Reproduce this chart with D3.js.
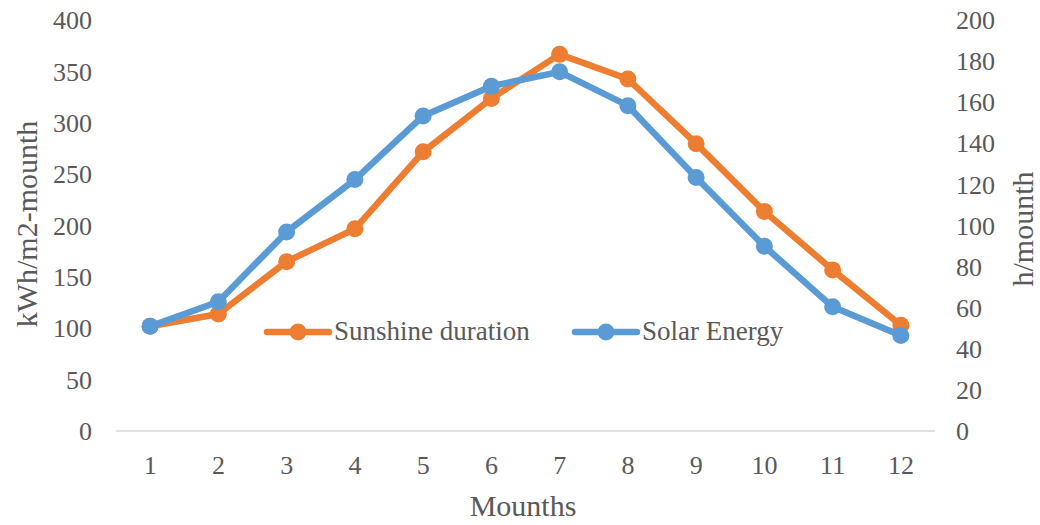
<!DOCTYPE html>
<html>
<head>
<meta charset="utf-8">
<script src="https://cdn.jsdelivr.net/npm/d3@7"></script>
<style>
  html, body { margin: 0; padding: 0; background: #fff; }
  svg { display: block; }
</style>
</head>
<body>
<svg id="chart" width="1040" height="525"></svg>
<script>
// Monthly data
const months = ["1","2","3","4","5","6","7","8","9","10","11","12"];
const sunshine = [102, 114, 165, 197, 272, 324, 367, 343, 280, 214, 157, 103];   // left axis
const solar    = [51, 63, 97, 122.5, 153.5, 168, 175, 158.5, 123.5, 90, 60.5, 46.5]; // right axis
const leftTicks  = [0, 50, 100, 150, 200, 250, 300, 350, 400];
const rightTicks = [0, 20, 40, 60, 80, 100, 120, 140, 160, 180, 200];

const FONT = "'Liberation Serif', 'Times New Roman', serif";
const TEXT_COLOR = "#595959";

const svg = d3.select("#chart");
const plot = { left: 116, right: 935, top: 20.5, bottom: 431 };

const x = d3.scaleBand().domain(months).range([plot.left, plot.right]);
const yL = d3.scaleLinear().domain([0, 400]).range([plot.bottom, plot.top]);
const yR = d3.scaleLinear().domain([0, 200]).range([plot.bottom, plot.top]);
const cx = m => x(m) + x.bandwidth() / 2;

function styleAxis(g) {
  g.select(".domain").remove();
  g.attr("font-family", FONT).attr("font-size", 26);
  g.selectAll("text").attr("fill", TEXT_COLOR);
}

// Left value axis labels
svg.append("g").attr("transform", "translate(92,0)")
  .call(d3.axisLeft(yL).tickValues(leftTicks).tickSize(0).tickPadding(0))
  .call(styleAxis);

// Right value axis labels
svg.append("g").attr("transform", "translate(956,0)")
  .call(d3.axisRight(yR).tickValues(rightTicks).tickSize(0).tickPadding(0))
  .call(styleAxis);

// Category axis line
svg.append("line")
  .attr("x1", plot.left).attr("x2", plot.right)
  .attr("y1", yL(0)).attr("y2", yL(0))
  .attr("stroke", "#d9d9d9").attr("stroke-width", 1.5);

// Category labels
svg.append("g").attr("transform", "translate(0,455.5)")
  .call(d3.axisBottom(x).tickSize(0).tickPadding(0))
  .call(styleAxis);

// Axis titles
const title = (sel) => sel.attr("font-family", FONT).attr("font-size", 30)
  .attr("fill", TEXT_COLOR).attr("text-anchor", "middle");
svg.append("text").call(title).attr("x", 523).attr("y", 516).text("Mounths");
svg.append("text").call(title).attr("transform", "translate(37,224) rotate(-90)").text("kWh/m2-mounth");
svg.append("text").call(title).attr("transform", "translate(1033,229) rotate(-90)").text("h/mounth");

// Series
const series = [
  { name: "Sunshine duration", values: sunshine, y: yL, color: "#ED7D31" },
  { name: "Solar Energy", values: solar, y: yR, color: "#5B9BD5" }
];

series.forEach(s => {
  const line = d3.line().x((d, i) => cx(months[i])).y(d => s.y(d));
  svg.append("path").datum(s.values)
    .attr("d", line).attr("fill", "none")
    .attr("stroke", s.color).attr("stroke-width", 6.5)
    .attr("stroke-linejoin", "round").attr("stroke-linecap", "round");
  svg.append("g").selectAll("circle").data(s.values).join("circle")
    .attr("cx", (d, i) => cx(months[i])).attr("cy", d => s.y(d))
    .attr("r", 8.5).attr("fill", s.color);
});

// Legend
const legendItems = [
  { s: series[0], x: 267 },
  { s: series[1], x: 575 }
];
legendItems.forEach(it => {
  const g = svg.append("g").attr("transform", `translate(${it.x},332)`);
  g.append("line").attr("x1", 0).attr("x2", 62).attr("y1", 0).attr("y2", 0)
    .attr("stroke", it.s.color).attr("stroke-width", 6.5).attr("stroke-linecap", "round");
  g.append("circle").attr("cx", 31).attr("cy", 0).attr("r", 8.5).attr("fill", it.s.color);
  g.append("text").attr("x", 67).attr("y", 8)
    .attr("font-family", FONT).attr("font-size", 27).attr("fill", TEXT_COLOR)
    .text(it.s.name);
});
</script>
</body>
</html>
